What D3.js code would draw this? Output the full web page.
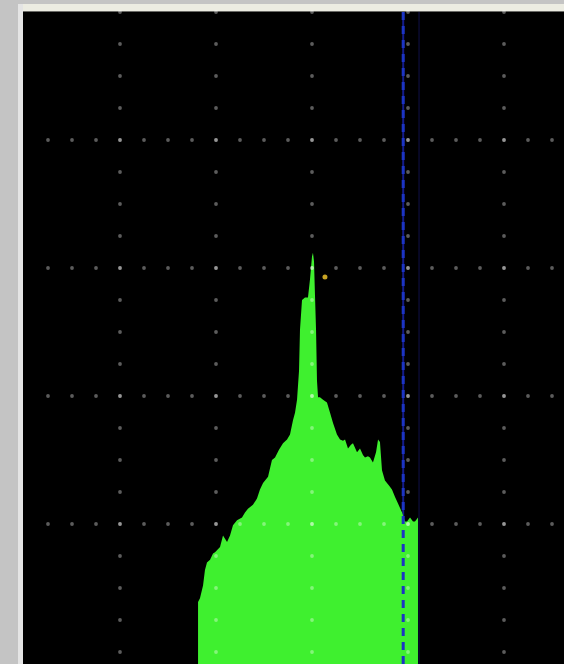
<!DOCTYPE html>
<html>
<head>
<meta charset="utf-8">
<script src="https://cdn.jsdelivr.net/npm/d3@7/dist/d3.min.js"></script>
<style>
  html, body { margin: 0; padding: 0; background: #c4c4c4; }
  svg { display: block; }
</style>
</head>
<body>
<svg id="chart" width="564" height="664"></svg>
<script>
// Spectrum trace: frequency (divisions x10) and level (dB)
const freq = [18.13, 18.33, 18.65, 18.85, 19.06, 19.38, 19.69, 19.90, 20.42, 20.73,
  21.15, 21.46, 21.77, 22.19, 22.71, 23.02, 23.33, 23.85, 24.27, 24.58,
  24.90, 25.42, 25.83, 26.15, 26.56, 26.98, 27.40, 27.71, 28.02, 28.23,
  28.44, 28.65, 28.75, 28.96, 29.27, 29.58, 29.79, 30.00, 30.10, 30.21,
  30.31, 30.42, 30.52, 30.63, 30.83, 31.15, 31.56, 31.88, 32.19, 32.60,
  32.92, 33.23, 33.44, 33.75, 34.06, 34.27, 34.69, 35.00, 35.31, 35.52,
  35.83, 36.04, 36.35, 36.67, 36.88, 37.08, 37.29, 37.60, 38.02, 38.33,
  38.65, 38.96, 39.38, 39.69, 39.90, 40.21, 40.52, 40.73, 41.04];
const level = [-46.1, -45.8, -44.8, -43.6, -43.0, -42.8, -42.3, -42.2, -41.8, -40.9,
  -41.4, -40.9, -40.1, -39.7, -39.5, -39.1, -38.8, -38.5, -38.0, -37.3,
  -36.8, -36.3, -35.0, -34.8, -34.2, -33.7, -33.4, -33.0, -31.9, -31.3,
  -30.3, -28.0, -24.8, -22.5, -22.3, -22.3, -20.9, -19.1, -18.8, -19.5,
  -22.1, -24.8, -28.8, -30.1, -30.1, -30.3, -30.5, -31.3, -32.1, -33.0,
  -33.4, -33.5, -33.4, -34.1, -33.8, -33.7, -34.4, -34.1, -34.6, -34.8,
  -34.7, -34.8, -35.2, -34.4, -33.4, -33.6, -35.8, -36.6, -37.0, -37.3,
  -37.9, -38.4, -39.1, -39.8, -39.8, -39.5, -39.8, -39.8, -39.5];

// Markers
const markerFreq = [39.5];      // blue dashed marker
const refFreq = [41.15];        // faint reference line
const peakMarker = [{ f: 31.35, l: -20.7 }];

// Graticule
const xDivisions = [10, 20, 30, 40, 50];
const yDivisions = [-10, -20, -30, -40];
const minorStep = 2.5;

const svg = d3.select("#chart");
const W = 564, H = 664;

const x = d3.scaleLinear().domain([0, 60]).range([24, 600]);
const y = d3.scaleLinear().domain([-50, 0]).range([652, 12]);

// Window frame
svg.append("rect").attr("x", 0).attr("y", 0).attr("width", W).attr("height", H).attr("fill", "#c4c4c4");
svg.append("rect").attr("x", 18).attr("y", 4).attr("width", W - 18).attr("height", 7).attr("fill", "#ecece2");
svg.append("rect").attr("x", 18).attr("y", 4).attr("width", 5).attr("height", H).attr("fill", "#e4e4e4");
svg.append("rect").attr("x", 23).attr("y", 11).attr("width", W - 23).attr("height", 1).attr("fill", "#6a6a66");

const plot = svg.append("g");
plot.append("rect").attr("x", 23).attr("y", 12).attr("width", W - 23).attr("height", H - 12).attr("fill", "#000");

// Marker lines beneath the trace
plot.selectAll("line.mk-under").data(markerFreq).join("line")
  .attr("class", "mk-under")
  .attr("x1", d => x(d)).attr("x2", d => x(d))
  .attr("y1", 12).attr("y2", H)
  .attr("stroke", "#141c8a").attr("stroke-width", 2);
plot.selectAll("line.ref").data(refFreq).join("line")
  .attr("class", "ref")
  .attr("x1", d => x(d)).attr("x2", d => x(d))
  .attr("y1", 12).attr("y2", H)
  .attr("stroke", "#0b0b30").attr("stroke-width", 1.5);

// Trace fill
const trace = freq.map((f, i) => ({ f, l: level[i] }));
const area = d3.area()
  .x(d => x(d.f))
  .y0(H + 2)
  .y1(d => y(d.l))
  .curve(d3.curveLinear);
plot.append("path").datum(trace).attr("d", area).attr("fill", "#3ff02f");

// Graticule dots
const dots = [];
xDivisions.forEach(f => {
  for (let v = 0; v >= -50; v -= minorStep) dots.push([x(f), y(v)]);
});
yDivisions.forEach(l => {
  for (let f = minorStep; f < 60; f += minorStep) dots.push([x(f), y(l)]);
});
plot.selectAll("circle.grid").data(dots).join("circle")
  .attr("class", "grid")
  .attr("cx", d => d[0]).attr("cy", d => d[1])
  .attr("r", 1.9)
  .attr("fill", "#ffffff").attr("fill-opacity", 0.36);

// Dashed marker over everything
plot.selectAll("line.mk").data(markerFreq).join("line")
  .attr("class", "mk")
  .attr("x1", d => x(d)).attr("x2", d => x(d))
  .attr("y1", 12).attr("y2", H)
  .attr("stroke", "#1c34c4").attr("stroke-width", 3)
  .attr("stroke-dasharray", "8,6");

// Peak marker
plot.selectAll("circle.peak").data(peakMarker).join("circle")
  .attr("class", "peak")
  .attr("cx", d => x(d.f)).attr("cy", d => y(d.l))
  .attr("r", 2.5)
  .attr("fill", "#c8a424");
</script>
</body>
</html>
